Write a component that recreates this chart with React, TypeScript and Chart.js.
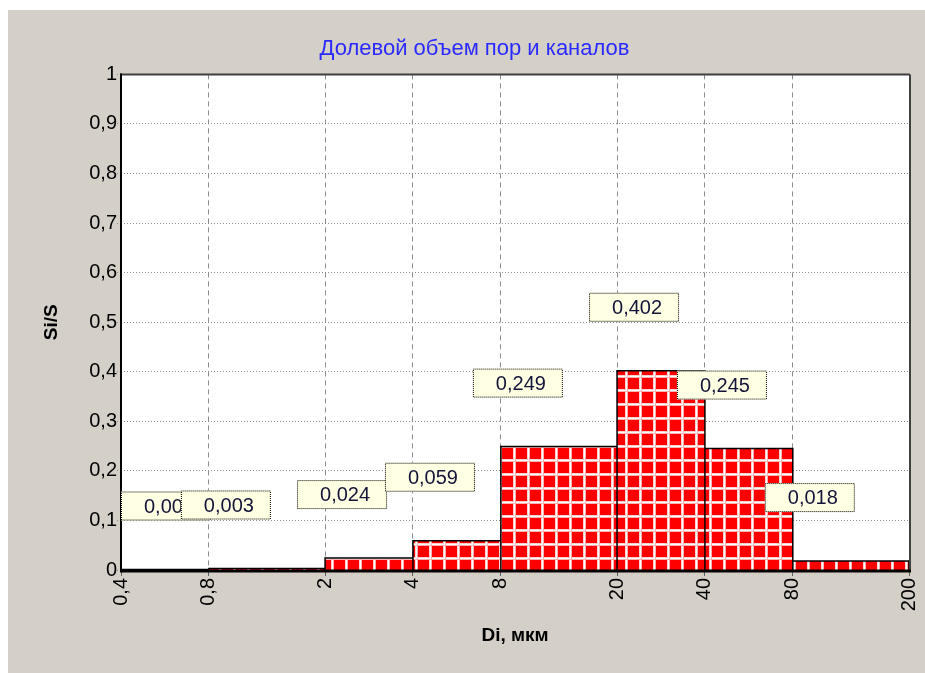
import React, { useEffect, useRef } from 'react';
import { Chart, registerables } from 'chart.js';

Chart.register(...registerables);

// ---- data ----
const binEdges = [0.4, 0.8, 2, 4, 8, 20, 40, 80, 200];
const fractions = [0.001, 0.003, 0.024, 0.059, 0.249, 0.402, 0.245, 0.018];
const yTickValues = [0, 0.1, 0.2, 0.3, 0.4, 0.5, 0.6, 0.7, 0.8, 0.9, 1];
const titleText = 'Долевой объем пор и каналов';
const xTitle = 'Di, мкм';
const yTitle = 'Si/S';

const FONT = '"Liberation Sans", Arial, sans-serif';

const fmt = (v: number) => String(Math.round(v * 1000) / 1000).replace('.', ',');

function makePattern(): CanvasPattern | string {
  const pc = document.createElement('canvas');
  pc.width = 14;
  pc.height = 14;
  const p = pc.getContext('2d');
  if (!p) return '#ff0000';
  p.fillStyle = '#ff0000';
  p.fillRect(0, 0, 14, 14);
  p.fillStyle = '#ffd0d0';
  p.fillRect(1, 0, 1, 14);
  p.fillRect(0, 1, 14, 1);
  p.fillStyle = '#ffffff';
  p.fillRect(2, 0, 1, 14);
  p.fillRect(0, 2, 14, 1);
  p.fillStyle = '#ffb0b0';
  p.fillRect(3, 0, 1, 14);
  p.fillRect(0, 3, 14, 1);
  const pat = p.createPattern(pc, 'repeat');
  return pat || '#ff0000';
}

const plotBg = {
  id: 'plotBg',
  beforeDraw(chart: any) {
    const { ctx, chartArea } = chart;
    ctx.save();
    ctx.fillStyle = '#ffffff';
    ctx.fillRect(chartArea.left, chartArea.top, chartArea.right - chartArea.left, chartArea.bottom - chartArea.top);
    ctx.restore();
  },
};

const frameAndLabels = {
  id: 'frameAndLabels',
  afterDatasetsDraw(chart: any) {
    const { ctx, chartArea, scales } = chart;
    const { left, right, top, bottom } = chartArea;
    ctx.save();
    ctx.setLineDash([]);
    // top & right frame
    ctx.strokeStyle = '#404040';
    ctx.lineWidth = 2;
    ctx.beginPath();
    ctx.moveTo(left - 1, top);
    ctx.lineTo(right + 1, top);
    ctx.moveTo(right + 1, top);
    ctx.lineTo(right + 1, bottom);
    ctx.stroke();
    // left frame
    ctx.strokeStyle = '#000000';
    ctx.lineWidth = 2;
    ctx.beginPath();
    ctx.moveTo(left, top - 1);
    ctx.lineTo(left, bottom + 2);
    ctx.stroke();
    // bottom axis
    ctx.lineWidth = 3;
    ctx.beginPath();
    ctx.moveTo(left - 1, bottom + 1);
    ctx.lineTo(right + 2, bottom + 1);
    ctx.stroke();

    // data labels
    const x = scales.x;
    const y = scales.y;
    ctx.font = '20px ' + FONT;
    ctx.textAlign = 'center';
    ctx.textBaseline = 'middle';
    const w = 90;
    const h = 29;
    fractions.forEach((v, i) => {
      const xl = x.getPixelForValue(binEdges[i]);
      const yt = y.getPixelForValue(v);
      let bx = xl - 28;
      if (bx < left) bx = left;
      const by = yt - 49 - h;
      ctx.fillStyle = '#ffffe4';
      ctx.fillRect(bx, by, w, h);
      ctx.setLineDash([1, 1]);
      ctx.strokeStyle = '#000000';
      ctx.lineWidth = 1;
      ctx.strokeRect(bx + 0.5, by + 0.5, w - 1, h - 1);
      ctx.setLineDash([]);
      ctx.fillStyle = '#141438';
      ctx.fillText(fmt(v).padEnd(5, '0'), bx + w / 2 + 3, by + h / 2 + 1);
    });
    ctx.restore();
  },
};

export default function App() {
  const ref = useRef<HTMLCanvasElement | null>(null);

  useEffect(() => {
    if (!ref.current) return;
    const outline: { x: number; y: number }[] = [];
    fractions.forEach((v, i) => {
      outline.push({ x: binEdges[i], y: 0 });
      outline.push({ x: binEdges[i], y: v });
      outline.push({ x: binEdges[i + 1], y: v });
      outline.push({ x: binEdges[i + 1], y: 0 });
    });
    const pattern = makePattern();

    const chart = new Chart(ref.current, {
      type: 'line',
      data: {
        datasets: [
          {
            data: outline,
            borderColor: '#000000',
            borderWidth: 1.5,
            backgroundColor: pattern as any,
            fill: 'origin',
            pointRadius: 0,
            tension: 0,
          },
        ],
      },
      options: {
        responsive: false,
        animation: false,
        devicePixelRatio: 1,
        layout: { padding: { left: 32, right: 16, top: 0, bottom: 0 } },
        plugins: {
          legend: { display: false },
          tooltip: { enabled: false },
          title: {
            display: true,
            text: titleText,
            color: '#2a2aff',
            font: { family: FONT, size: 22, weight: 'normal' },
            padding: { top: 26, bottom: 12 },
          },
        },
        scales: {
          x: {
            type: 'logarithmic',
            min: binEdges[0],
            max: binEdges[binEdges.length - 1],
            afterBuildTicks: (s: any) => {
              s.ticks = binEdges.map((v) => ({ value: v }));
            },
            afterFit: (s: any) => {
              s.height = 103;
              s.paddingLeft = 0;
              s.paddingRight = 0;
            },
            ticks: {
              autoSkip: false,
              minRotation: 90,
              maxRotation: 90,
              padding: 2,
              color: '#000000',
              font: { family: FONT, size: 20 },
              callback: (v: any) => fmt(Number(v)),
            },
            grid: {
              color: '#8c8c8c',
              lineWidth: 1,
              tickLength: 6,
              tickColor: '#606060',
            } as any,
            border: { display: false, dash: [5, 4] },
            title: {
              display: true,
              text: xTitle,
              color: '#000000',
              font: { family: FONT, size: 19, weight: 'bold' },
              padding: { top: 0, bottom: 26 },
            },
          },
          y: {
            type: 'linear',
            min: 0,
            max: 1,
            afterBuildTicks: (s: any) => {
              s.ticks = yTickValues.map((v) => ({ value: v }));
            },
            afterFit: (s: any) => {
              s.width = 81;
              s.paddingTop = 0;
              s.paddingBottom = 0;
            },
            ticks: {
              autoSkip: false,
              padding: 0,
              color: '#000000',
              font: { family: FONT, size: 20 },
              callback: (v: any) => fmt(Number(v)),
            },
            grid: {
              color: '#8c8c8c',
              lineWidth: 1,
              tickLength: 4,
              tickColor: '#8c8c8c',
              tickBorderDash: [1, 2],
            } as any,
            border: { display: false, dash: [1, 2] },
            title: {
              display: true,
              text: yTitle,
              color: '#000000',
              font: { family: FONT, size: 19, weight: 'bold' },
              padding: { top: 0, bottom: 0 },
            },
          },
        },
      },
      plugins: [plotBg, frameAndLabels],
    });
    return () => chart.destroy();
  }, []);

  return (
    <div
      style={{
        position: 'fixed',
        left: 8,
        top: 10,
        width: 917,
        height: 663,
        background: '#d4d0c8',
      }}
    >
      <canvas ref={ref} width={917} height={663} style={{ display: 'block' }} />
    </div>
  );
}
